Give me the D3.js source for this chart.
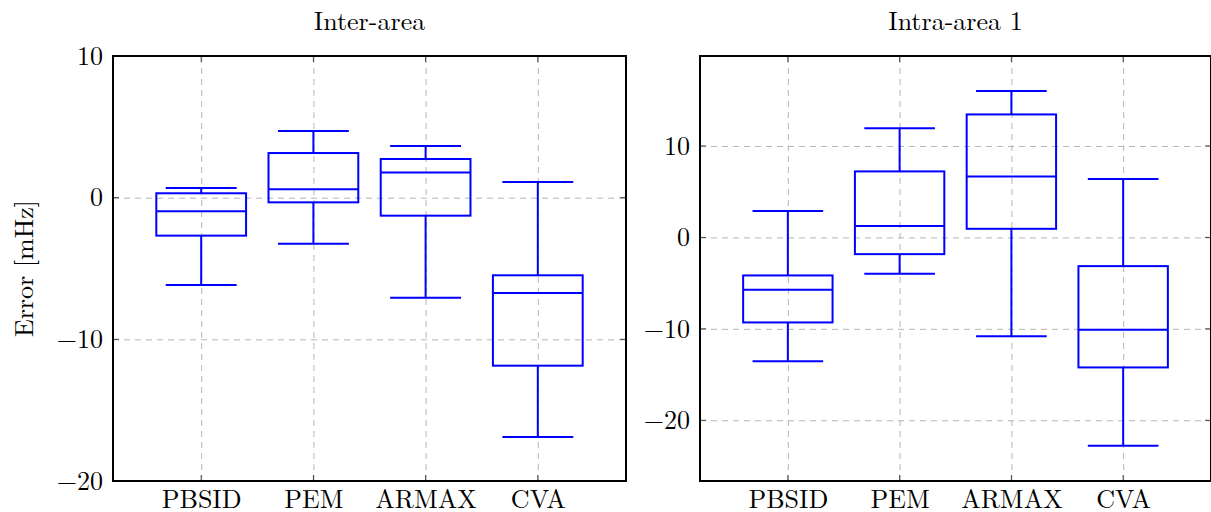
<!DOCTYPE html>
<html>
<head>
<meta charset="utf-8">
<style>
  body { margin: 0; background: #fff; }
  svg { display: block; font-family: 'Latin Modern Roman', 'CMU Serif', 'Liberation Serif', serif; }
  .grid line { stroke: #b5b5b5; stroke-width: 1; stroke-dasharray: 6 5; }
  .grid .domain { display: none; }
  .lbl .domain { display: none; }
  .lbl text { font-size: 26px; fill: #000; font-family: 'Latin Modern Roman', 'CMU Serif', 'Liberation Serif', serif; }
</style>
</head>
<body>
<svg width="1211" height="512"></svg>
<script src="https://cdn.jsdelivr.net/npm/d3@7"></script>
<script>
// categories on the x axis
const categories = ["PBSID", "PEM", "ARMAX", "CVA"];

// Inter-area box statistics
const interLow  = [-6.16, -3.25, -7.06, -16.9];
const interQ1   = [-2.68, -0.33, -1.27, -11.86];
const interMed  = [-0.96, 0.59, 1.77, -6.73];
const interQ3   = [0.31, 3.15, 2.73, -5.48];
const interHigh = [0.68, 4.71, 3.65, 1.11];

// Intra-area 1 box statistics
const intraLow  = [-13.53, -3.98, -10.8, -22.79];
const intraQ1   = [-9.3, -1.83, 0.94, -14.22];
const intraMed  = [-5.73, 1.24, 6.67, -10.1];
const intraQ3   = [-4.16, 7.22, 13.45, -3.14];
const intraHigh = [2.88, 11.95, 16.0, 6.38];

const interTicks = [-20, -10, 0, 10];
const intraTicks = [-20, -10, 0, 10];

const svg = d3.select("svg");
const plotTop = 56, plotBottom = 481;

function panel(opts) {
  const x = d3.scaleLinear().domain([0.214, 4.786]).range([opts.left, opts.right]);
  const y = d3.scaleLinear().domain(opts.domain).range([plotBottom, plotTop]);
  const g = svg.append("g");
  const w = opts.right - opts.left, h = plotBottom - plotTop;
  const pos = categories.map((c, i) => i + 1);

  // grid
  g.append("g").attr("class", "grid")
    .attr("transform", `translate(${opts.left},0)`)
    .call(d3.axisLeft(y).tickValues(opts.ticks).tickSize(-w).tickFormat(""));
  g.append("g").attr("class", "grid")
    .attr("transform", `translate(0,${plotBottom})`)
    .call(d3.axisBottom(x).tickValues(pos).tickSize(-h).tickFormat(""));

  // small tick marks inside the frame
  const tk = 6;
  opts.ticks.forEach(v => {
    if (y(v) <= plotTop + 1) return;
    g.append("line").attr("x1", opts.left).attr("x2", opts.left + tk)
      .attr("y1", y(v)).attr("y2", y(v)).attr("stroke", "#444");
    g.append("line").attr("x1", opts.right).attr("x2", opts.right - tk)
      .attr("y1", y(v)).attr("y2", y(v)).attr("stroke", "#444");
  });
  pos.forEach(p => {
    g.append("line").attr("x1", x(p)).attr("x2", x(p))
      .attr("y1", plotBottom).attr("y2", plotBottom - tk).attr("stroke", "#444");
    g.append("line").attr("x1", x(p)).attr("x2", x(p))
      .attr("y1", plotTop).attr("y2", plotTop + tk).attr("stroke", "#444");
  });

  // labels
  g.append("g").attr("class", "lbl")
    .attr("transform", `translate(${opts.left},0)`)
    .call(d3.axisLeft(y).tickValues(opts.ticks).tickSize(0).tickPadding(10).tickFormat(d3.format("d")));
  g.append("g").attr("class", "lbl")
    .attr("transform", `translate(0,${plotBottom})`)
    .call(d3.axisBottom(x).tickValues(pos).tickSize(0).tickPadding(9).tickFormat((d, i) => categories[i]));

  // boxes
  const boxHalf = 0.4, capHalf = 0.316;
  const blue = "#0000ff";
  pos.forEach((p, i) => {
    const bg = g.append("g").attr("stroke", blue).attr("stroke-width", 2).attr("fill", "none");
    bg.append("line").attr("x1", x(p)).attr("x2", x(p)).attr("y1", y(opts.low[i])).attr("y2", y(opts.q1[i]));
    bg.append("line").attr("x1", x(p)).attr("x2", x(p)).attr("y1", y(opts.q3[i])).attr("y2", y(opts.high[i]));
    bg.append("line").attr("x1", x(p - capHalf)).attr("x2", x(p + capHalf)).attr("y1", y(opts.low[i])).attr("y2", y(opts.low[i]));
    bg.append("line").attr("x1", x(p - capHalf)).attr("x2", x(p + capHalf)).attr("y1", y(opts.high[i])).attr("y2", y(opts.high[i]));
    bg.append("rect").attr("x", x(p - boxHalf)).attr("width", x(p + boxHalf) - x(p - boxHalf))
      .attr("y", y(opts.q3[i])).attr("height", y(opts.q1[i]) - y(opts.q3[i]));
    bg.append("line").attr("x1", x(p - boxHalf)).attr("x2", x(p + boxHalf)).attr("y1", y(opts.med[i])).attr("y2", y(opts.med[i]));
  });

  // frame
  g.append("rect").attr("x", opts.left).attr("y", plotTop).attr("width", w).attr("height", h)
    .attr("fill", "none").attr("stroke", "#000").attr("stroke-width", 2);

  // title
  g.append("text").attr("x", (opts.left + opts.right) / 2).attr("y", 30)
    .attr("text-anchor", "middle").style("font-size", "26px").text(opts.title);
}

panel({ left: 113, right: 626, domain: [-20, 10], ticks: interTicks, title: "Inter-area",
  low: interLow, q1: interQ1, med: interMed, q3: interQ3, high: interHigh });
panel({ left: 700, right: 1211, domain: [-26.64, 19.84], ticks: intraTicks, title: "Intra-area 1",
  low: intraLow, q1: intraQ1, med: intraMed, q3: intraQ3, high: intraHigh });

svg.append("text")
  .attr("transform", `translate(33,${(plotTop + plotBottom) / 2}) rotate(-90)`)
  .attr("text-anchor", "middle").style("font-size", "26px")
  .text("Error [mHz]");
</script>
</body>
</html>
